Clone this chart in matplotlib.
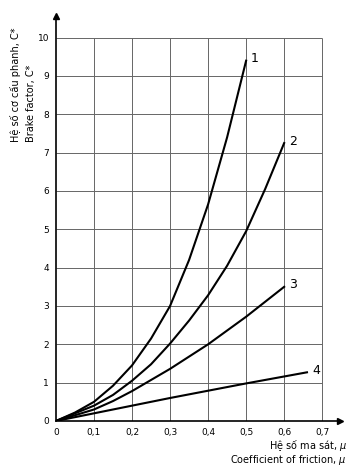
import matplotlib.pyplot as plt
import numpy as np

# values
mu1 = [0, 0.05, 0.1, 0.15, 0.2, 0.25, 0.3, 0.35, 0.4, 0.45, 0.5]
c1 = [0, 0.22, 0.5, 0.92, 1.45, 2.15, 3.0, 4.2, 5.65, 7.4, 9.4]
mu2 = [0, 0.1, 0.15, 0.2, 0.25, 0.3, 0.35, 0.4, 0.45, 0.5, 0.55, 0.6]
c2 = [0, 0.4, 0.68, 1.05, 1.48, 2.02, 2.62, 3.28, 4.05, 4.95, 6.05, 7.25]
mu3 = [0, 0.1, 0.15, 0.2, 0.3, 0.4, 0.5, 0.6]
c3 = [0, 0.3, 0.52, 0.78, 1.36, 2.0, 2.72, 3.5]
mu4 = [0, 0.1, 0.2, 0.3, 0.4, 0.5, 0.66]
c4 = [0, 0.2, 0.4, 0.6, 0.79, 0.98, 1.27]
curve_names = ['1', '2', '3', '4']

xticks = [0, 0.1, 0.2, 0.3, 0.4, 0.5, 0.6, 0.7]
xlabels = ['0', '0,1', '0,2', '0,3', '0,4', '0,5', '0,6', '0,7']
yticks = list(range(0, 11))

fig = plt.figure(figsize=(3.61, 4.75), dpi=100)
ax = fig.add_axes([0.155, 0.1137, 0.787, 0.853])
ax.set_xlim(0, 0.747)
ax.set_ylim(0, 10.57)

# grid, limited to the chart area
ax.hlines(yticks[1:], 0, 0.7, color='#666666', lw=0.7)
ax.vlines(xticks[1:], 0, 10, color='#666666', lw=0.7)

for s in ['top', 'right']:
    ax.spines[s].set_visible(False)
ax.spines['left'].set_linewidth(1.2)
ax.spines['bottom'].set_linewidth(1.2)
ax.plot(0.747, 0, '>', color='k', ms=4, clip_on=False)
ax.plot(0, 10.57, '^', color='k', ms=4, clip_on=False)

for mu, c in [(mu1, c1), (mu2, c2), (mu3, c3), (mu4, c4)]:
    ax.plot(mu, c, color='k', lw=1.5, solid_joinstyle='round')

ends = [(mu1[-1], c1[-1]), (mu2[-1], c2[-1]), (mu3[-1], c3[-1]), (mu4[-1], c4[-1])]
for name, (x, y) in zip(curve_names, ends):
    ax.text(x + 0.013, y + 0.05, name, fontsize=9, va='center', ha='left')

ax.set_xticks(xticks)
ax.set_xticklabels(xlabels)
ax.set_yticks(yticks)
ax.tick_params(length=0, labelsize=6.5, pad=5)

fig.text(0.96, 0.063, 'Hệ số ma sát, $\\mu$', ha='right', va='center', fontsize=7)
fig.text(0.96, 0.032, 'Coefficient of friction, $\\mu$', ha='right', va='center', fontsize=7)
fig.text(0.042, 0.70, 'Hệ số cơ cấu phanh, C*', rotation=90, ha='center', va='bottom', fontsize=7)
fig.text(0.085, 0.70, 'Brake factor, C*', rotation=90, ha='center', va='bottom', fontsize=7)

fig.savefig('out.png', dpi=100, facecolor='white')
